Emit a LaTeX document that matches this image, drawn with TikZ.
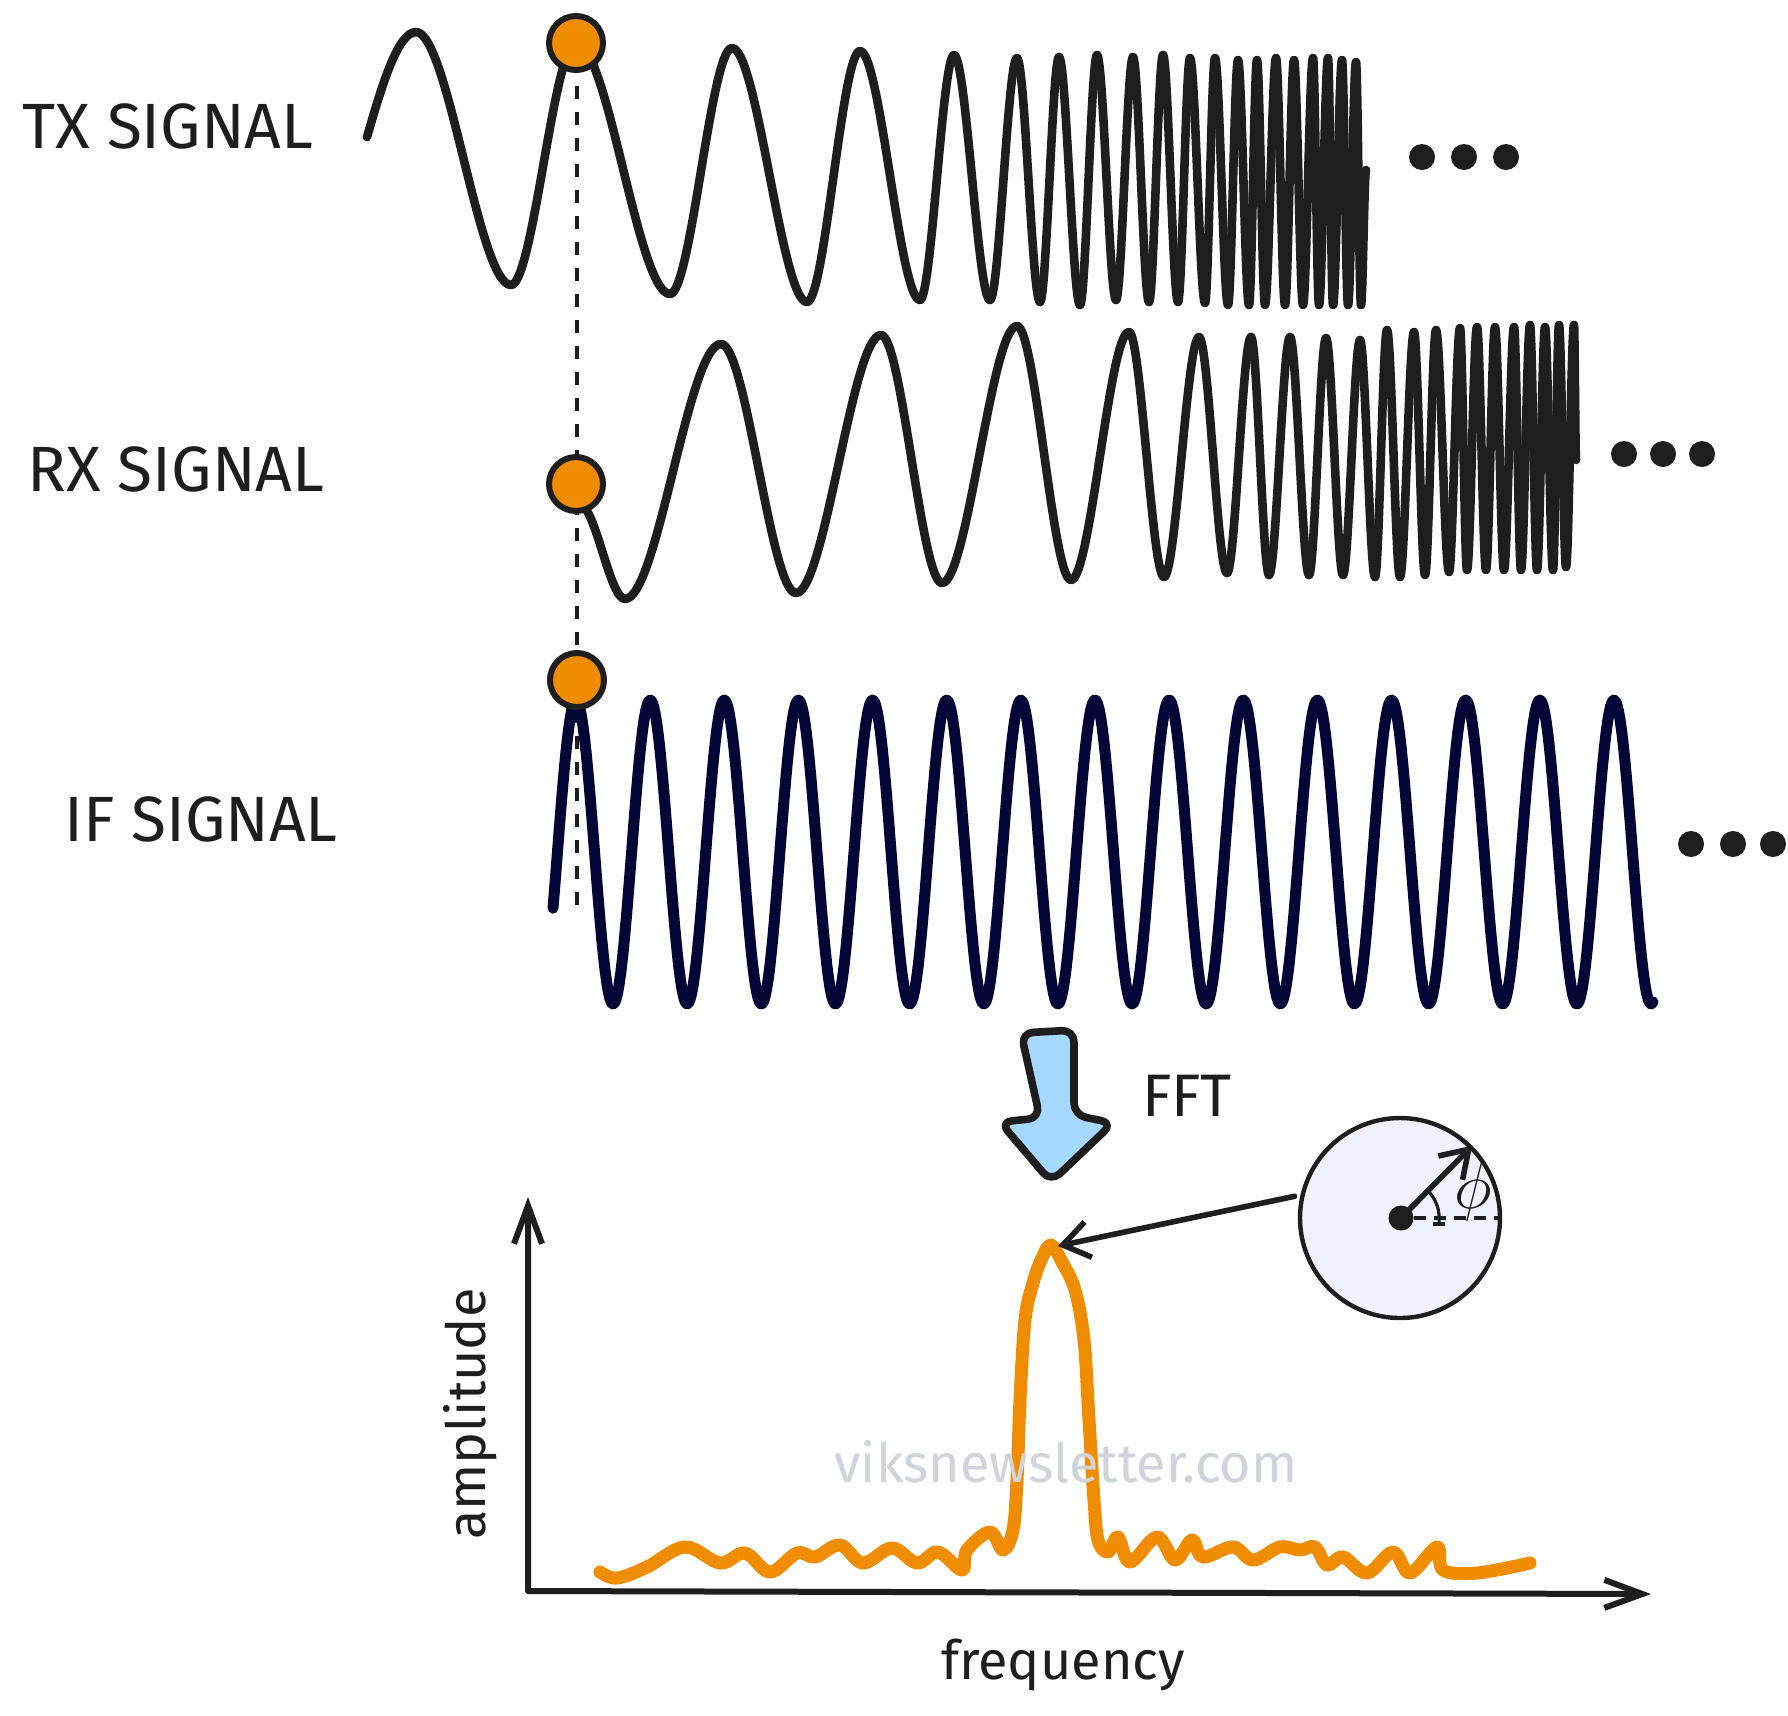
\documentclass[tikz,border=0pt]{standalone}
\usepackage{fontspec}
\setmainfont{Fira Sans}
\usetikzlibrary{arrows.meta}
\definecolor{ink}{HTML}{1E1E1E}
\definecolor{orng}{HTML}{F08C00}
\definecolor{navy}{HTML}{030537}
\definecolor{fftblue}{HTML}{A5D8FF}
\definecolor{lav}{HTML}{F1F0FF}
\definecolor{wm}{HTML}{CED4DA}
\begin{document}
\begin{tikzpicture}[x=0.5pt,y=-0.5pt,
  wave/.style={ink, line width=4.3pt, line cap=round, line join=round},
  ifwave/.style={navy, line width=5.5pt, line cap=round, line join=round},
  spec/.style={orng, line width=6.5pt, line cap=round, line join=round},
  siglabel/.style={text=ink, font=\fontsize{32}{36}\selectfont, inner sep=0pt},
  axislabel/.style={text=ink, font=\fontsize{27}{30}\selectfont, inner sep=0pt},
  odot/.style={circle, draw=ink, fill=orng, line width=3pt, minimum size=27pt, inner sep=0pt},
  edot/.style={circle, fill=ink, minimum size=13pt, inner sep=0pt},
  dashline/.style={ink, line width=1.7pt, dash pattern=on 6.5pt off 6.5pt},
  axis/.style={ink, line width=3pt, line join=round, line cap=round,
    {Straight Barb[length=19pt,width=14pt]}-{Straight Barb[length=19pt,width=14pt]}},
  pointer/.style={ink, line width=2.8pt, line cap=round, -{Straight Barb[length=13pt,width=18pt]}},
]
\useasboundingbox (0,0) rectangle (1788,1715);
\fill[white] (0,0) rectangle (1788,1715);

% labels
\node[siglabel] (txlabel) at (168,126) {TX SIGNAL};
\node[siglabel] (rxlabel) at (176,469) {RX SIGNAL};
\node[siglabel] (iflabel) at (201,819) {IF SIGNAL};

% dashed alignment line
\coordinate (dashend) at (577,918);
\draw[dashline] (577,60) -- (dashend);

% TX signal
\draw[wave] (367,137) .. controls (382,85) and (398,32) .. (416,32);
\foreach \x/\y [remember=\x as \lx (initially 416), remember=\y as \ly (initially 32)] in
 {511/285, 576/43, 670/294, 732/48, 807/302, 860/51, 920/300, 954/55, 990/300, 1017/58,
  1040/302, 1059/57, 1080/305, 1097/55, 1116/300, 1133/57, 1149/302, 1163/55, 1178/302,
  1190/58, 1205/303, 1215/58, 1228/305, 1238/60, 1249/305, 1257/60, 1265/305, 1276/58,
  1285/305, 1294/60, 1303/305, 1313/58, 1319/305, 1328/58, 1333/305, 1342/60, 1348/305,
  1356/62, 1361/305, 1366/170}
 {\draw[wave] (\lx,\ly) .. controls ({\lx+0.34*(\x-\lx)},\ly) and ({\x-0.34*(\x-\lx)},\y) .. (\x,\y);}

% RX signal
\foreach \x/\y [remember=\x as \lx (initially 580), remember=\y as \ly (initially 505)] in
 {625/599, 721/344, 796/593, 881/335, 942/583, 1017/326, 1071/580, 1129/332, 1164/577,
  1199/337, 1227/573, 1251/337, 1269/575, 1290/337, 1309/575, 1326/338, 1343/575, 1360/340,
  1375/577, 1387/330, 1400/577, 1414/332, 1425/575, 1436/330, 1449/572, 1460/328, 1467/570,
  1477/327, 1486/570, 1495/327, 1504/570, 1514/327, 1521/570, 1530/325, 1537/570, 1545/327,
  1553/570, 1559/325, 1566/567, 1574/325, 1576/460}
 {\draw[wave] (\lx,\ly) .. controls ({\lx+0.34*(\x-\lx)},\ly) and ({\x-0.34*(\x-\lx)},\y) .. (\x,\y);}

% IF signal
\draw[ifwave] plot[domain=553:1653, samples=700, variable=\t] (\t,{852-152*cos((\t-576)*4.8557)});

% orange markers
\node[odot] (dotTX) at (576,43) {};
\node[odot] (dotRX) at (576,484) {};
\node[odot] (dotIF) at (577,680) {};

% ellipses
\node[edot] (tx1) at (1422,157) {};
\node[edot] (tx2) at (1464,157) {};
\node[edot] (tx3) at (1506,157) {};
\node[edot] (rx1) at (1624,454) {};
\node[edot] (rx2) at (1663,454) {};
\node[edot] (rx3) at (1702,454) {};
\node[edot] (if1) at (1691,844) {};
\node[edot] (if2) at (1733,844) {};
\node[edot] (if3) at (1773,844) {};

% FFT arrow
\draw[ink, fill=fftblue, line width=3.8pt, rounded corners=6pt, line join=round]
  (1021,1033) -- (1074,1030) -- (1074,1115) -- (1113,1123) -- (1051,1182)
  -- (1000,1122) -- (1040,1118) -- cycle;
\node[siglabel, font=\fontsize{30}{34}\selectfont] (fft) at (1187,1096) {FFT};

% phasor circle
\node[circle, draw=ink, fill=lav, line width=2.2pt, minimum size=100pt, inner sep=0pt] (phasor) at (1400,1218) {};
\node[edot, minimum size=12.5pt] (pc) at (1401,1218) {};
\draw[ink, line width=1.8pt, dash pattern=on 6pt off 4pt] (pc.east) -- (phasor.east);
\draw[ink, line width=2.8pt, line cap=round, -{Straight Barb[length=13pt,width=17pt]}] (pc.center) -- (phasor.45);
\draw[ink, line width=1.6pt] (1428,1191) arc[start angle=-45, end angle=0, radius=38] -- ++(0,6);
\draw[ink, line width=1.6pt] (1433,1224) -- (1445,1224);
\node[text=ink, inner sep=0pt, font=\fontsize{24.88}{28}\selectfont, scale=1.3] (phi) at (1473,1192) {$\phi$};

% axes
\coordinate (origin) at (528,1591);
\coordinate (ytop) at (528,1197);
\coordinate (xend) at (1651,1594);
\draw[axis] (ytop) -- (origin) -- (xend);
\node[axislabel, rotate=90] (amp) at (470,1414) {amplitude};
\node[axislabel] (freq) at (1063,1665) {frequency};

% spectrum
\draw[spec] plot[smooth, tension=0.6] coordinates {
 (600,1572) (617,1578) (647,1567) (685,1547) (720,1563) (745,1553) (770,1572) (797,1553)
 (815,1557) (840,1545) (863,1563) (892,1548) (917,1563) (938,1552) (962,1570) (967,1550)
 (990,1532) (1003,1550) (1013,1530) (1017,1480) (1020,1400) (1025,1320) (1033,1283)
 (1042,1258) (1051,1245) (1062,1262) (1075,1290) (1084,1340) (1089,1420) (1094,1500)
 (1098,1540) (1108,1552)
 (1118,1537) (1130,1562) (1157,1537) (1175,1560) (1192,1540) (1203,1557) (1233,1547)
 (1253,1560) (1280,1547) (1300,1550) (1315,1547) (1327,1565) (1343,1557) (1367,1573)
 (1393,1552) (1410,1573) (1437,1547) (1443,1570) (1477,1573) (1530,1563)};

% pointer from phasor to peak
\coordinate (peak) at (1058,1246);
\draw[pointer, shorten <=3pt] (phasor.167) -- (peak);

% watermark
\node[text=wm, inner sep=0pt, font=\fontsize{27}{30}\selectfont] (wmark) at (1066,1462) {viksnewsletter.com};
\end{tikzpicture}
\end{document}
